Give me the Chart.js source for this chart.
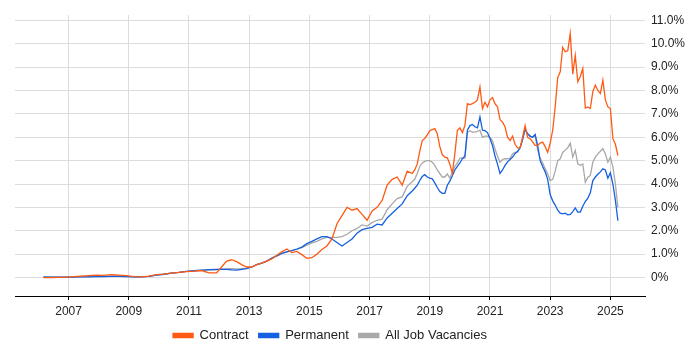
<!DOCTYPE html>
<html>
<head>
<meta charset="utf-8">
<script src="https://cdn.jsdelivr.net/npm/chart.js@4.4.1/dist/chart.umd.min.js"></script>
<style>
  html, body { margin: 0; padding: 0; background: #fff; }
  #wrap { width: 700px; height: 350px; }
</style>
</head>
<body>
<div id="wrap"><canvas id="myChart" width="700" height="350"></canvas></div>
<script>
// month of each sample (quarterly early on, then every 2 months, then monthly)
const dates = [
  '2006-03','2006-06','2006-09','2006-12','2007-03','2007-06','2007-09','2007-12',
  '2008-03','2008-06','2008-09','2008-12','2009-03','2009-06','2009-09','2009-12',
  '2010-03','2010-06','2010-09','2010-12','2011-03','2011-06','2011-09','2011-12',
  '2012-02','2012-04','2012-06','2012-08','2012-10','2012-12',
  '2013-02','2013-04','2013-06','2013-08','2013-10','2013-12',
  '2014-02','2014-04','2014-06','2014-08','2014-10','2014-12',
  '2015-02','2015-04','2015-06','2015-08','2015-10','2015-12',
  '2016-02','2016-04','2016-06','2016-08','2016-10','2016-12',
  '2017-02','2017-04','2017-06','2017-08','2017-10','2017-12',
  '2018-02','2018-04','2018-06',
  '2018-07','2018-08','2018-09','2018-10','2018-11','2018-12',
  '2019-01','2019-02','2019-03','2019-04','2019-05','2019-06','2019-07','2019-08','2019-09','2019-10','2019-11','2019-12',
  '2020-01','2020-02','2020-03','2020-04','2020-05','2020-06','2020-07','2020-08','2020-09','2020-10','2020-11','2020-12',
  '2021-01','2021-02','2021-03','2021-04','2021-05','2021-06','2021-07','2021-08','2021-09','2021-10','2021-11','2021-12',
  '2022-01','2022-02','2022-03','2022-04','2022-05','2022-06','2022-07','2022-08','2022-09','2022-10','2022-11','2022-12',
  '2023-01','2023-02','2023-03','2023-04','2023-05','2023-06','2023-07','2023-08','2023-09','2023-10','2023-11','2023-12',
  '2024-01','2024-02','2024-03','2024-04','2024-05','2024-06','2024-07','2024-08','2024-09','2024-10','2024-11','2024-12',
  '2025-01','2025-02','2025-03','2025-04'
];

const contract = [
  0.0,0.0,0.01,0.02,0.04,0.06,0.08,0.1,
  0.09,0.12,0.1,0.08,0.04,0.03,0.06,0.12,
  0.15,0.19,0.22,0.25,0.27,0.3,0.2,0.2,
  0.45,0.7,0.76,0.68,0.55,0.45,
  0.45,0.55,0.62,0.7,0.8,0.95,
  1.1,1.22,1.07,1.12,0.98,0.82,
  0.85,1.0,1.2,1.35,1.65,2.3,
  2.65,3.0,2.88,2.95,2.7,2.45,
  2.85,3.0,3.3,3.95,4.2,4.3,
  3.95,4.55,4.45,
  4.6,4.86,5.4,5.86,5.95,6.1,
  6.28,6.33,6.37,6.15,5.6,5.25,5.15,5.12,4.85,4.45,5.3,6.3,
  6.4,6.2,6.5,7.44,7.4,7.44,7.5,7.6,8.15,7.23,7.5,7.3,
  7.6,7.7,7.44,7.3,6.75,6.65,6.45,6.0,5.86,6.05,5.7,5.55,
  5.55,6.0,6.5,6.0,5.94,5.8,5.65,5.65,5.75,5.79,5.6,5.36,
  5.75,6.3,7.3,8.55,8.8,9.85,9.66,9.7,10.44,8.7,9.5,8.37,
  8.6,8.94,7.25,7.3,7.23,7.95,8.23,8.0,7.87,8.44,7.6,7.3,
  7.23,5.94,5.7,5.22
];

const permanent = [
  0.03,0.02,0.02,0.02,0.02,0.03,0.03,0.04,
  0.04,0.05,0.05,0.04,0.03,0.03,0.05,0.1,
  0.14,0.19,0.22,0.26,0.29,0.32,0.34,0.35,
  0.36,0.35,0.33,0.32,0.35,0.38,
  0.45,0.55,0.62,0.7,0.83,0.93,
  1.03,1.1,1.15,1.22,1.3,1.45,
  1.55,1.65,1.75,1.75,1.65,1.5,
  1.35,1.5,1.65,1.9,2.05,2.1,
  2.15,2.28,2.25,2.55,2.75,2.95,
  3.15,3.5,3.7,
  3.82,3.95,4.15,4.32,4.4,4.3,
  4.25,4.22,4.05,3.85,3.68,3.6,3.6,3.95,4.12,4.35,4.6,4.75,
  4.9,5.08,5.2,6.3,6.5,6.55,6.45,6.4,6.87,6.3,6.28,6.2,
  5.95,5.65,5.2,4.85,4.45,4.6,4.8,4.95,5.05,5.15,5.3,5.4,
  5.55,5.9,6.35,6.15,6.05,6.0,6.12,5.65,5.0,4.75,4.52,4.2,
  3.55,3.28,3.1,2.88,2.75,2.72,2.75,2.68,2.7,2.82,2.98,2.8,
  2.8,3.05,3.25,3.4,3.62,4.15,4.3,4.42,4.52,4.65,4.6,4.25,
  4.48,4.0,3.3,2.43
];

const allJobs = [
  0.02,0.02,0.02,0.02,0.03,0.03,0.04,0.05,
  0.05,0.06,0.06,0.05,0.03,0.03,0.05,0.1,
  0.14,0.19,0.22,0.26,0.28,0.31,0.32,0.33,
  0.35,0.37,0.38,0.37,0.38,0.4,
  0.45,0.55,0.62,0.7,0.82,0.93,
  1.03,1.1,1.15,1.2,1.28,1.38,
  1.48,1.55,1.65,1.72,1.72,1.72,
  1.75,1.85,2.0,2.1,2.25,2.2,
  2.35,2.45,2.5,2.9,3.15,3.38,
  3.45,3.9,4.1,
  4.2,4.45,4.75,4.9,4.97,5.0,
  5.0,4.93,4.8,4.6,4.45,4.3,4.3,4.43,4.25,4.5,4.75,4.9,
  5.1,5.12,5.1,6.2,6.28,6.22,6.22,6.25,6.3,6.0,6.05,6.05,
  6.0,5.85,5.5,5.2,4.93,5.05,5.08,5.08,5.1,5.3,5.35,5.36,
  5.55,5.9,6.35,6.15,6.05,6.0,6.07,5.45,5.1,4.9,4.65,4.43,
  4.15,4.2,4.55,5.0,5.08,5.35,5.45,5.55,5.75,5.15,5.44,4.86,
  4.8,4.86,4.07,4.29,4.36,4.93,5.15,5.29,5.4,5.51,5.29,4.93,
  5.15,4.72,4.0,3.0
];

// tick labels
const yearTicks = [2007, 2009, 2011, 2013, 2015, 2017, 2019, 2021, 2023, 2025];
const pctTicks = [0, 1, 2, 3, 4, 5, 6, 7, 8, 9, 10, 11];

// 'YYYY-MM' -> decimal year
function toYear(s) {
    const [y, m] = s.split('-').map(Number);
    return y + (m - 1) / 12;
}

function points(values) {
    return dates.map((d, i) => ({ x: toYear(d), y: values[i] }));
}

const font = { family: 'Arial, "Liberation Sans", sans-serif', size: 12 };

// centre the legend under the plot area instead of the whole canvas
const legendUnderPlot = {
    id: 'legendUnderPlot',
    beforeDraw(chart) {
        const l = chart.legend;
        l.left = chart.chartArea.left;
        l.right = chart.chartArea.right;
        l.top = chart.chartArea.bottom + 23;
    }
};

const ctx = document.getElementById('myChart').getContext('2d');
new Chart(ctx, {
    type: 'line',
    data: {
        datasets: [
            { label: 'Contract', data: points(contract), borderColor: '#ff5a14', backgroundColor: '#ff5a14' },
            { label: 'Permanent', data: points(permanent), borderColor: '#1560e0', backgroundColor: '#1560e0' },
            { label: 'All Job Vacancies', data: points(allJobs), borderColor: '#a8a8a8', backgroundColor: '#a8a8a8' }
        ]
    },
    plugins: [legendUnderPlot],
    options: {
        responsive: false,
        animation: false,
        layout: { padding: { left: 15, right: 10, top: 15, bottom: 0 } },
        elements: {
            point: { radius: 0 },
            line: { borderWidth: 1.3, tension: 0 }
        },
        plugins: {
            tooltip: { enabled: false },
            legend: {
                position: 'bottom',
                labels: {
                    boxWidth: 20,
                    boxHeight: 4,
                    padding: 10,
                    color: '#222',
                    font: { family: font.family, size: 13 }
                }
            }
        },
        scales: {
            x: {
                type: 'linear',
                min: 2005.22,
                max: 2026.15,
                afterBuildTicks: (scale) => { scale.ticks = yearTicks.map(v => ({ value: v })); },
                afterFit: (scale) => { scale.height = 21; },
                grid: { color: '#dcdcdc', tickColor: '#000', tickLength: 4, lineWidth: 1 },
                border: { color: '#000', width: 1 },
                ticks: { color: '#222', font: font, padding: 4, maxRotation: 0, callback: (v) => String(v) }
            },
            y: {
                position: 'right',
                min: -0.79,
                max: 11.23,
                afterBuildTicks: (scale) => { scale.ticks = pctTicks.map(v => ({ value: v })); },
                afterFit: (scale) => { scale.width = 45; },
                grid: { color: '#dcdcdc', drawTicks: false },
                border: { display: false },
                ticks: {
                    color: '#222',
                    font: font,
                    padding: 6,
                    callback: (v) => v === 0 ? '0%' : v.toFixed(1) + '%'
                }
            }
        }
    }
});
</script>
</body>
</html>
